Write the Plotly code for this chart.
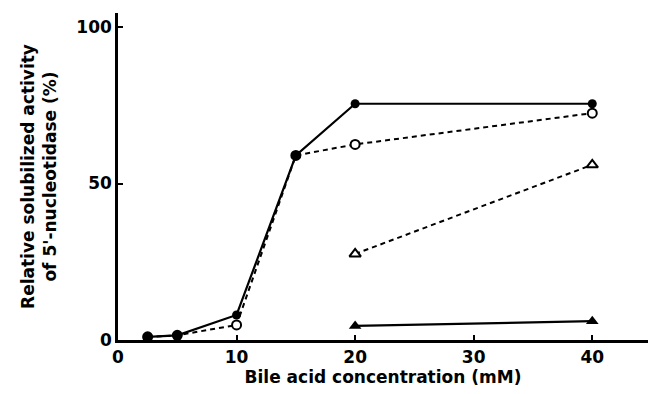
import plotly.graph_objects as go

# Bile acid concentration (mM)
conc_circ = [2.5, 5, 10, 15, 20, 40]
conc_tri = [20, 40]

# Relative solubilized activity of 5'-nucleotidase (%)
filled_circ = [1.0, 1.5, 8.0, 59.0, 75.5, 75.5]
open_circ = [1.0, 1.5, 4.8, 59.0, 62.5, 72.5]
open_tri = [27.5, 56.0]
filled_tri = [4.5, 6.0]

xticks = [0, 10, 20, 30, 40]
yticks = [0, 50, 100]

fig = go.Figure()

fig.add_trace(go.Scatter(
    x=conc_circ, y=open_circ, mode="lines+markers",
    line=dict(color="black", width=2, dash="5px,4px"),
    marker=dict(symbol="circle", size=9, color="white",
                line=dict(color="black", width=2)),
))
fig.add_trace(go.Scatter(
    x=conc_circ, y=filled_circ, mode="lines+markers",
    line=dict(color="black", width=2.2),
    marker=dict(symbol="circle", size=9, color="black"),
))
fig.add_trace(go.Scatter(
    x=conc_tri, y=open_tri, mode="lines+markers",
    line=dict(color="black", width=2, dash="5px,4px"),
    marker=dict(symbol="triangle-up", size=10, color="white",
                line=dict(color="black", width=2)),
))
fig.add_trace(go.Scatter(
    x=conc_tri, y=filled_tri, mode="lines+markers",
    line=dict(color="black", width=2.2),
    marker=dict(symbol="triangle-up", size=11, color="black"),
))

font = dict(family="DejaVu Sans", size=17, color="black", weight="bold")
title_font = dict(family="DejaVu Sans", size=17, color="black", weight="bold")

fig.update_layout(
    width=650, height=394,
    margin=dict(l=118, r=2, t=13, b=54),
    paper_bgcolor="white", plot_bgcolor="white",
    showlegend=False,
    font=font,
    xaxis=dict(
        range=[0, 44.7], tickvals=xticks, ticks="inside", ticklen=5,
        tickwidth=2, tickcolor="black", showline=True, linecolor="black",
        linewidth=2.5, showgrid=False, zeroline=False,
        title=dict(text="Bile acid concentration (mM)", standoff=4,
                   font=title_font),
        tickfont=font,
    ),
    yaxis=dict(
        range=[0, 104.5], tickvals=yticks, ticks="inside", ticklen=5,
        tickwidth=2, tickcolor="black", showline=True, linecolor="black",
        linewidth=2.5, showgrid=False, zeroline=False,
        title=dict(text="Relative solubilized activity<br>of 5'-nucleotidase (%)",
                   standoff=16, font=title_font),
        tickfont=font,
    ),
)

fig.write_html("out.html")
